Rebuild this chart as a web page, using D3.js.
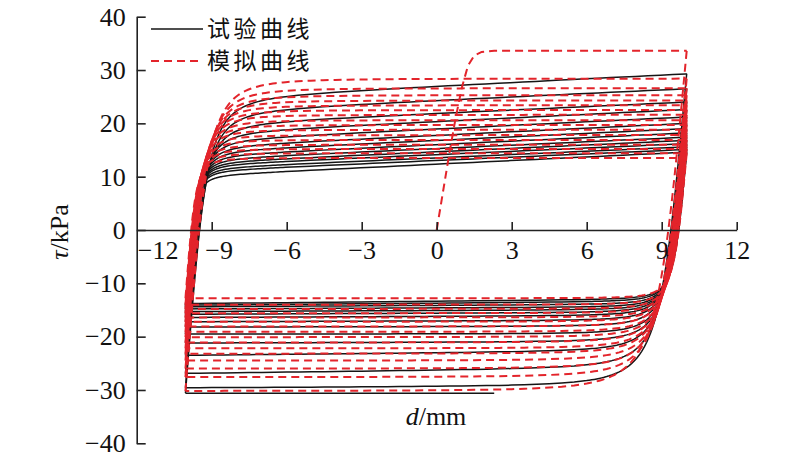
<!DOCTYPE html>
<html><head><meta charset="utf-8">
<script src="https://cdn.jsdelivr.net/npm/d3@7"></script>
<style>
html,body{margin:0;padding:0;background:#fff;}
svg{display:block;}
</style>
</head><body>
<svg id="c" width="800" height="461"></svg>
<script>
// ---------- data ----------
const xTickVals = [-12, -9, -6, -3, 0, 3, 6, 9, 12];
const yTickVals = [-40, -30, -20, -10, 0, 10, 20, 30, 40];
const legendLabels = ["试验曲线", "模拟曲线"];
const xLabel = "mm";
const yLabel = "kPa";

// simulated (red) first loading curve
const redInitD = [0, 0.25, 0.5, 0.75, 1.0, 1.25, 1.5, 1.8, 2.3, 10];
const redInitT = [0, 7.1, 14.2, 20.8, 26.6, 30.8, 32.7, 33.4, 33.6, 33.6];
// simulated plateau levels per cycle (kPa)
const redPos = [28.4, 26.6, 25.3, 24.3, 23.4, 22.5, 21.6, 20.6, 19.7, 18.8, 17.8, 16.9, 16.0, 15.2, 14.4, 13.5];
const redNeg = [-30.2, -27.6, -26.0, -24.5, -23.2, -22.2, -21.1, -20.1, -19.1, -18.1, -17.2, -16.4, -15.6, -14.8, -14.0, -12.8];

// test (black) curves: first trace, then plateau levels per cycle
const blackFirstD = [2.3, -10.05];
const blackFirstT = [-30.6, -30.6];
const blackPosStart = [25.6, 23.0, 20.6, 19.0, 17.6, 16.4, 15.5, 14.7, 14.0, 13.4, 12.9, 12.3, 11.8, 11.0]; // at d=-6
const blackPosEnd   = [29.3, 26.5, 24.0, 22.6, 21.2, 20.0, 19.0, 18.2, 17.4, 16.8, 16.2, 15.6, 15.1, 14.6]; // at d=10
const blackNegStart = [-29.3, -26.0, -22.8, -21.0, -19.5, -18.1, -17.0, -16.1, -15.5, -15.0, -14.5, -14.0, -13.5, -13.1]; // at d=6
const blackNegEnd   = [-29.6, -26.9, -23.5, -21.2, -19.5, -18.2, -17.2, -16.4, -15.8, -15.3, -14.8, -14.4, -14.1, -13.8]; // at d=-10

// ---------- layout ----------
const svg = d3.select("#c");
const x = d3.scaleLinear().domain([-12, 12]).range([136.7, 736.7]);
const y = d3.scaleLinear().domain([-40, 40]).range([443.3, 16.7]);
const RED = "#e3242b", BLACK = "#151515";
const serif = "'Liberation Serif','Times New Roman',serif";

// reversal points and loop shape
const dL = -10.05, dR = 10.0, kUp = 60, kDown = 50, nExp = 2.5;
const h = r => r / Math.pow(1 + Math.pow(r, nExp), 1 / nExp);
const deltas = d3.range(0, 1.5, 0.02).concat(d3.range(1.5, 4, 0.1), d3.range(4, 20.05, 0.5), [dR - dL]);

function upBranch(N, target) {
  return deltas.map(dd => {
    const d = Math.min(dL + dd, dR);
    const A = target(d) - N;
    return [d, N + A * h(kUp * dd / A)];
  });
}
function downBranch(P, target) {
  return deltas.map(dd => {
    const d = Math.max(dR - dd, dL);
    const A = P - target(d);
    return [d, P - A * h(kDown * dd / A)];
  });
}

const line = d3.line().x(p => x(p[0])).y(p => y(p[1]));
const gBlack = svg.append("g");
const gRed = svg.append("g");

// black test curves
const blackPaths = [];
blackPaths.push(blackFirstD.map((d, i) => [d, blackFirstT[i]]));
let prevNeg = blackFirstT[1];
blackPosStart.forEach((S, i) => {
  const E = blackPosEnd[i];
  blackPaths.push(upBranch(prevNeg, d => S + (E - S) * (d + 6) / 16));
  const s = blackNegStart[i], e = blackNegEnd[i];
  blackPaths.push(downBranch(E, d => s + (e - s) * (6 - d) / 16));
  prevNeg = e;
});
gBlack.selectAll("path").data(blackPaths).join("path")
  .attr("d", line).attr("fill", "none").attr("stroke", BLACK)
  .attr("stroke-width", 1.5).attr("stroke-linejoin", "round");

// red simulated curves
const redPaths = [];
redPaths.push(redInitD.map((d, i) => [d, redInitT[i]]));
let prevPos = redInitT[redInitT.length - 1];
redNeg.forEach((N, i) => {
  redPaths.push(downBranch(prevPos, () => N));
  redPaths.push(upBranch(N, () => redPos[i]));
  prevPos = redPos[i];
});
gRed.selectAll("path").data(redPaths).join("path")
  .attr("d", line).attr("fill", "none").attr("stroke", RED)
  .attr("stroke-width", 2).attr("stroke-dasharray", "8,5");

// ---------- axes ----------
const xAxis = svg.append("g").attr("transform", `translate(0,${y(0)})`)
  .call(d3.axisBottom(x).tickValues(xTickVals).tickSizeInner(-8).tickSizeOuter(0).tickPadding(11));
const yAxis = svg.append("g").attr("transform", `translate(${x(-12)},0)`)
  .call(d3.axisLeft(y).tickValues(yTickVals).tickSizeInner(-9).tickSizeOuter(0).tickPadding(11));
[xAxis, yAxis].forEach(a => {
  a.attr("font-family", null).attr("font-size", null);
  a.select(".domain").attr("stroke", "#222").attr("stroke-width", 1.6);
  a.selectAll(".tick line").attr("stroke", "#222").attr("stroke-width", 1.6);
  a.selectAll("text").style("font-family", serif).style("font-size", "26px").attr("fill", "#111");
});
xAxis.selectAll(".tick").filter(d => d === -12).select("line").remove();
xAxis.selectAll(".tick text").attr("dx", d => d === -12 ? 21 : (d === -9 ? 7 : 0));

// axis titles
const yt = svg.append("text").attr("transform", `translate(68,232) rotate(-90)`)
  .attr("text-anchor", "middle").style("font-family", serif).style("font-size", "26px").attr("fill", "#111");
yt.append("tspan").attr("font-style", "italic").text("τ");
yt.append("tspan").text("/" + yLabel);
const xt = svg.append("text").attr("x", 436).attr("y", 425)
  .attr("text-anchor", "middle").style("font-family", serif).style("font-size", "26px").attr("fill", "#111");
xt.append("tspan").attr("font-style", "italic").text("d");
xt.append("tspan").text("/" + xLabel);

// ---------- legend ----------
const leg = svg.append("g");
const legY = [29, 61];
leg.selectAll("line").data(legendLabels).join("line")
  .attr("x1", 151).attr("x2", 203).attr("y1", (d, i) => legY[i]).attr("y2", (d, i) => legY[i])
  .attr("stroke", (d, i) => i ? RED : BLACK).attr("stroke-width", (d, i) => i ? 2 : 1.5)
  .attr("stroke-dasharray", (d, i) => i ? "8,5" : null);
leg.selectAll("text").data(legendLabels).join("text")
  .attr("x", 207).attr("y", (d, i) => legY[i]).attr("dy", "0.36em")
  .style("font-family", "'Noto Sans CJK SC',sans-serif").style("font-size", "23px")
  .attr("letter-spacing", 3.5).attr("fill", "#111").text(d => d);
</script>
</body></html>
